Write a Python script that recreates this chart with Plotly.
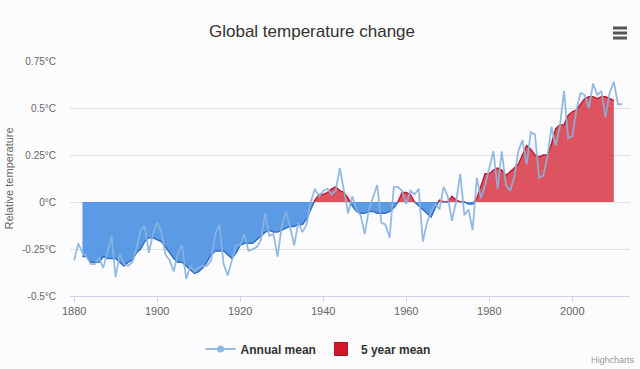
import plotly.graph_objects as go

# ---- data ----
annual_years = list(range(1880, 2013))
annual_mean = [
    -0.31, -0.22, -0.27, -0.29, -0.33, -0.33, -0.30, -0.35, -0.27, -0.18,
    -0.40, -0.28, -0.33, -0.34, -0.32, -0.25, -0.15, -0.13, -0.27, -0.17,
    -0.11, -0.16, -0.28, -0.31, -0.37, -0.27, -0.23, -0.41, -0.34, -0.37,
    -0.35, -0.34, -0.34, -0.31, -0.17, -0.12, -0.33, -0.39, -0.31, -0.23,
    -0.23, -0.17, -0.26, -0.25, -0.24, -0.20, -0.06, -0.18, -0.17, -0.29,
    -0.13, -0.05, -0.13, -0.23, -0.11, -0.16, -0.12, 0.00, 0.07, 0.03,
    0.06, 0.07, 0.04, 0.06, 0.18, 0.06, -0.06, 0.03, -0.04, -0.07,
    -0.17, -0.04, 0.03, 0.09, -0.11, -0.12, -0.19, 0.08, 0.08, 0.06,
    -0.01, 0.06, 0.04, 0.07, -0.21, -0.11, -0.05, -0.01, -0.04, 0.08,
    0.03, -0.10, 0.00, 0.15, -0.07, -0.04, -0.15, 0.13, 0.02, 0.09,
    0.18, 0.27, 0.07, 0.27, 0.09, 0.06, 0.13, 0.27, 0.33, 0.20,
    0.37, 0.36, 0.13, 0.14, 0.24, 0.40, 0.30, 0.40, 0.59, 0.34,
    0.35, 0.49, 0.58, 0.57, 0.50, 0.63, 0.57, 0.59, 0.45, 0.58,
    0.64, 0.52, 0.52,
]

five_years = list(range(1882, 2011))
five_year_mean = [
    -0.29, -0.29, -0.32, -0.32, -0.32, -0.29, -0.30, -0.30,
    -0.30, -0.32, -0.34, -0.32, -0.31, -0.27, -0.25, -0.21, -0.19, -0.19,
    -0.20, -0.21, -0.24, -0.27, -0.30, -0.32, -0.32, -0.34, -0.36, -0.38,
    -0.37, -0.35, -0.32, -0.28, -0.26, -0.26, -0.26, -0.28, -0.30, -0.27,
    -0.23, -0.22, -0.22, -0.22, -0.20, -0.18, -0.16, -0.15, -0.16, -0.16,
    -0.15, -0.14, -0.13, -0.13, -0.12, -0.12, -0.09, -0.04, 0.01, 0.04,
    0.04, 0.05, 0.07, 0.08, 0.06, 0.05, 0.02, -0.02, -0.05, -0.06,
    -0.06, -0.05, -0.05, -0.06, -0.06, -0.06, -0.05, -0.03, 0.00, 0.05,
    0.05, 0.04, 0.00, -0.02, -0.04, -0.06, -0.08, -0.03, 0.01, 0.00,
    0.00, 0.03, 0.01, 0.00, 0.00, -0.01, -0.01, 0.02, 0.09, 0.15,
    0.15, 0.17, 0.18, 0.17, 0.14, 0.16, 0.18, 0.20, 0.25, 0.30,
    0.28, 0.25, 0.24, 0.25, 0.25, 0.31, 0.39, 0.41, 0.41, 0.46,
    0.48, 0.49, 0.52, 0.55, 0.56, 0.56, 0.55, 0.56, 0.56, 0.55,
    0.54,
]

y_ticks = [-0.5, -0.25, 0, 0.25, 0.5, 0.75]
y_tick_labels = ["-0.5°C", "-0.25°C", "0°C", "0.25°C", "0.5°C", "0.75°C"]
x_ticks = [1880, 1900, 1920, 1940, 1960, 1980, 2000]

Y_MIN, Y_MAX = -0.5, 0.75
split = (0 - Y_MIN) / (Y_MAX - Y_MIN)

RED_FILL = "rgba(214,45,60,0.82)"
RED_LINE = "#c41e30"
BLUE_FILL = "rgba(62,137,224,0.85)"
BLUE_LINE = "#2f70c4"
ANNUAL = "rgba(138,178,222,0.9)"
FONT = "Liberation Sans, Arial, sans-serif"

fig = go.Figure()

# positive part (clipped by upper subplot)
fig.add_trace(go.Scatter(
    x=five_years, y=five_year_mean, xaxis="x", yaxis="y2",
    mode="lines", line=dict(color=RED_LINE, width=1.5),
    fill="tozeroy", fillcolor=RED_FILL, showlegend=False, hoverinfo="skip",
))
# negative part (clipped by lower subplot)
fig.add_trace(go.Scatter(
    x=five_years, y=five_year_mean, xaxis="x", yaxis="y3",
    mode="lines", line=dict(color=BLUE_LINE, width=1.5),
    fill="tozeroy", fillcolor=BLUE_FILL, showlegend=False, hoverinfo="skip",
))
# annual mean on top
fig.add_trace(go.Scatter(
    x=annual_years, y=annual_mean, xaxis="x", yaxis="y4",
    mode="lines", line=dict(color=ANNUAL, width=1.8), showlegend=False,
))

# legend entries
fig.add_trace(go.Scatter(
    x=[None], y=[None], mode="lines+markers", name="<b>Annual mean</b>",
    line=dict(color=ANNUAL, width=2), marker=dict(color=ANNUAL, size=7),
))
fig.add_trace(go.Scatter(
    x=[None], y=[None], mode="markers", name="<b>5 year mean</b>",
    marker=dict(color="#d0182a", size=13, symbol="square",
                line=dict(color="#b01020", width=1)),
))

fig.update_layout(
    width=640, height=369,
    margin=dict(l=70, r=10, t=61, b=73, autoexpand=False),
    paper_bgcolor="#fcfbfd",
    plot_bgcolor="rgba(0,0,0,0)",
    font=dict(family=FONT, color="#666666", size=11),
    title=dict(text="Global temperature change", x=0.4875, xref="container",
               xanchor="center", y=1 - 31 / 369, yanchor="middle",
               font=dict(size=17, color="#333333", family=FONT)),
    xaxis=dict(range=[1879.0, 2013.9], tickvals=x_ticks, showgrid=False,
               ticks="outside", ticklen=5, tickcolor="#ccd6eb",
               showline=True, linecolor="#ccd6eb", zeroline=False,
               tickfont=dict(size=11, color="#666666"), anchor="y"),
    yaxis=dict(range=[Y_MIN, Y_MAX], tickvals=y_ticks, ticktext=y_tick_labels,
               showgrid=True, gridcolor="#e0e0e0", zeroline=False,
               showline=False, ticks="outside", ticklen=11,
               tickcolor="rgba(0,0,0,0)",
               tickfont=dict(size=10, color="#666666"), domain=[0, 1]),
    yaxis2=dict(range=[0, Y_MAX], domain=[split, 1], visible=False,
                showgrid=False, zeroline=False, anchor="x"),
    yaxis3=dict(range=[Y_MIN, 0], domain=[0, split], visible=False,
                showgrid=False, zeroline=False, anchor="x"),
    yaxis4=dict(range=[Y_MIN, Y_MAX], domain=[0, 1], visible=False,
                showgrid=False, zeroline=False, anchor="x"),
    legend=dict(orientation="h", x=0.443, xanchor="center",
                yref="container", y=1 - 349 / 369, yanchor="middle",
                font=dict(size=12, color="#333333"),
                bgcolor="rgba(0,0,0,0)", itemwidth=30),
    showlegend=True,
)

fig.add_annotation(text="Relative temperature", textangle=-90,
                   xref="paper", yref="paper", x=(8 - 70) / 560, y=0.5,
                   xanchor="center", yanchor="middle", showarrow=False,
                   font=dict(size=11, color="#666666"))
fig.add_annotation(text="Highcharts", xref="paper", yref="paper",
                   x=(637 - 70) / 560, y=(296 - 360) / 235,
                   xanchor="right", yanchor="middle", showarrow=False,
                   font=dict(size=9, color="#999999"))
for py in (28, 33, 38):
    fig.add_shape(type="line", xref="paper", yref="paper",
                  x0=(613 - 70) / 560, x1=(627 - 70) / 560,
                  y0=(296 - py) / 235, y1=(296 - py) / 235,
                  line=dict(color="#555555", width=3))

fig.write_html("out.html", config={"displayModeBar": False},
               post_script="document.body.style.margin='0';document.body.style.padding='0';")
